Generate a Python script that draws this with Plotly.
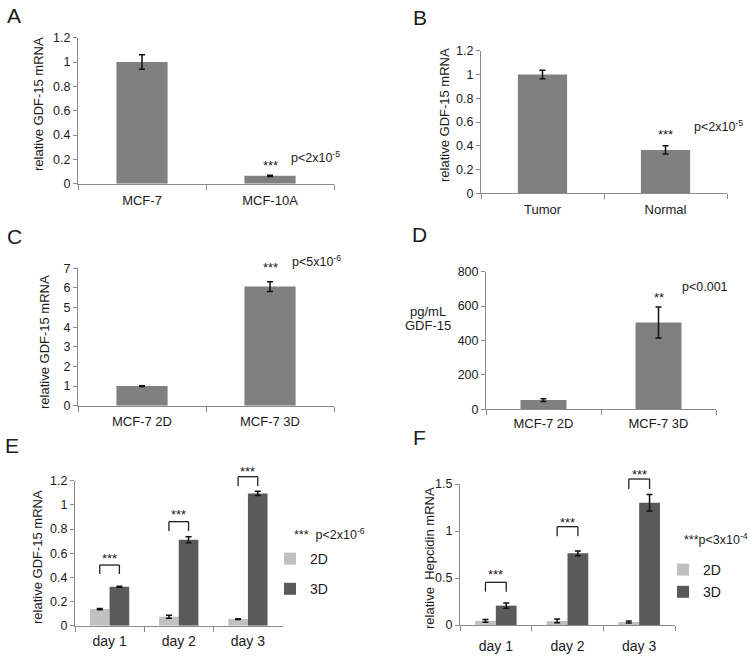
import plotly.graph_objects as go

W, H = 752, 661

# ---------------- data ----------------
a_cats = ["MCF-7", "MCF-10A"]
a_vals = [1.0, 0.065]
a_err = [0.06, 0.005]

b_cats = ["Tumor", "Normal"]
b_vals = [1.0, 0.365]
b_err = [0.035, 0.035]

c_cats = ["MCF-7 2D", "MCF-7 3D"]
c_vals = [1.0, 6.07]
c_err = [0.02, 0.25]

d_cats = ["MCF-7 2D", "MCF-7 3D"]
d_vals = [54, 505]
d_err = [8, 90]

e_days = ["day 1", "day 2", "day 3"]
e_2d = [0.138, 0.074, 0.055]
e_2d_err = [0.005, 0.012, 0.003]
e_3d = [0.323, 0.712, 1.095]
e_3d_err = [0.004, 0.025, 0.017]
e_br_low = [0.428, 0.784, 1.156]
e_br_high = [0.502, 0.861, 1.233]
e_star_y = [0.578, 0.944, 1.303]

f_days = ["day 1", "day 2", "day 3"]
f_2d = [0.043, 0.043, 0.032]
f_2d_err = [0.015, 0.02, 0.01]
f_3d = [0.206, 0.762, 1.30]
f_3d_err = [0.027, 0.025, 0.087]
f_br_low = [0.355, 0.944, 1.447]
f_br_high = [0.454, 1.046, 1.553]
f_star_y = [0.574, 1.124, 1.638]

# stars above single-bar panels: (category index, height in data units, text)
abcd_star_x = [1, 1, 1, 1]
abcd_star_y = [0.174, 0.516, 7.17, 670]
abcd_star_txt = ["***", "***", "***", "**"]

# ---------------- style ----------------
FONT = "Liberation Sans, Arial, sans-serif"
TXT = "#1a1a1a"
AX = "#8a8a8a"
BAR = "#808080"
LIGHT = "#c0c0c0"
DARK = "#5a5a5a"
EB = "#111111"
BW_E = 0.284
BW_F = 0.29


def sfx(ax):
    return "" if ax == "1" else ax


def px(x, y):
    return x / W, 1 - y / H


def err(arr):
    return dict(type="data", array=arr, color=EB, thickness=1.5, width=3)


def xax(x0, x1, anchor, standoff, fs=13):
    return dict(domain=[x0 / W, x1 / W], anchor=anchor, type="category",
                showline=True, linecolor=AX, linewidth=1, ticks="outside",
                tickson="boundaries", ticklen=5, tickcolor=AX,
                tickfont=dict(size=fs, color=TXT, family=FONT),
                ticklabelstandoff=standoff, automargin=False,
                showgrid=False, zeroline=False, fixedrange=True)


def yax(top, bottom, anchor, rng, dtick, fs=12.5):
    return dict(domain=[1 - bottom / H, 1 - top / H], anchor=anchor,
                range=rng, dtick=dtick, tick0=0, showline=True, linecolor=AX,
                linewidth=1, ticks="outside", ticklen=4, tickcolor=AX,
                tickfont=dict(size=fs, color=TXT, family=FONT), automargin=False,
                showgrid=False, zeroline=False, fixedrange=True)


fig = go.Figure()

# single-bar panels
for cats, vals, errs, ax in [(a_cats, a_vals, a_err, "1"), (b_cats, b_vals, b_err, "2"),
                             (c_cats, c_vals, c_err, "3"), (d_cats, d_vals, d_err, "4")]:
    fig.add_trace(go.Bar(x=cats, y=vals, error_y=err(errs), marker_color=BAR,
                         marker_line_width=0, width=0.4, showlegend=False,
                         xaxis="x" + sfx(ax), yaxis="y" + sfx(ax), hoverinfo="x+y"))

# grouped panels
fig.add_trace(go.Bar(x=e_days, y=e_2d, error_y=err(e_2d_err), name="2D", marker_color=LIGHT,
                     marker_line_width=0, width=BW_E, offset=-BW_E, xaxis="x5", yaxis="y5",
                     legend="legend", legendgroup="e2d"))
fig.add_trace(go.Bar(x=e_days, y=e_3d, error_y=err(e_3d_err), name="3D", marker_color=DARK,
                     marker_line_width=0, width=BW_E, offset=0, xaxis="x5", yaxis="y5",
                     legend="legend", legendgroup="e3d"))
fig.add_trace(go.Bar(x=f_days, y=f_2d, error_y=err(f_2d_err), name="2D", marker_color=LIGHT,
                     marker_line_width=0, width=BW_F, offset=-BW_F, xaxis="x6", yaxis="y6",
                     legend="legend2", legendgroup="f2d"))
fig.add_trace(go.Bar(x=f_days, y=f_3d, error_y=err(f_3d_err), name="3D", marker_color=DARK,
                     marker_line_width=0, width=BW_F, offset=0, xaxis="x6", yaxis="y6",
                     legend="legend2", legendgroup="f3d"))

YMAX = {"1": 1.2, "2": 1.2, "3": 7, "4": 800, "5": 1.2, "6": 1.5}

layout = dict(
    template="none",
    width=W, height=H, autosize=False,
    margin=dict(l=0, r=0, t=0, b=0, pad=0),
    paper_bgcolor="white", plot_bgcolor="white",
    font=dict(family=FONT, color=TXT, size=13),
    barmode="group",
    xaxis=xax(78, 334, "y", 5),
    yaxis=yax(37.7, 183.7, "x", [0, YMAX["1"]], 0.2),
    xaxis2=xax(481, 727, "y2", 4),
    yaxis2=yax(50.7, 193.3, "x2", [0, YMAX["2"]], 0.2),
    xaxis3=xax(78, 334, "y3", 4),
    yaxis3=yax(268.3, 405.7, "x3", [0, YMAX["3"]], 1),
    xaxis4=xax(486, 716, "y4", 2),
    yaxis4=yax(271.7, 409.3, "x4", [0, YMAX["4"]], 200),
    xaxis5=xax(75, 282.5, "y5", 2, fs=14),
    yaxis5=yax(480.7, 625.7, "x5", [0, YMAX["5"]], 0.2),
    xaxis6=xax(460, 675, "y6", 8, fs=14),
    yaxis6=yax(484, 625, "x6", [0, YMAX["6"]], 0.5),
    legend=dict(x=px(270, 0)[0], y=px(0, 543)[1], xanchor="left", yanchor="top",
                font=dict(size=14, family=FONT, color=TXT), bgcolor="rgba(0,0,0,0)",
                traceorder="grouped", tracegroupgap=9, itemclick=False, itemdoubleclick=False),
    legend2=dict(x=px(663, 0)[0], y=px(0, 554)[1], xanchor="left", yanchor="top",
                 font=dict(size=14, family=FONT, color=TXT), bgcolor="rgba(0,0,0,0)",
                 traceorder="grouped", tracegroupgap=1, itemclick=False, itemdoubleclick=False),
)
fig.update_layout(**layout)

ann = []


def paper_text(text, x, y, size=13, xanchor="center", angle=0):
    xx, yy = px(x, y)
    ann.append(dict(text=text, x=xx, y=yy, xref="paper", yref="paper", showarrow=False,
                    xanchor=xanchor, yanchor="middle", textangle=angle,
                    font=dict(size=size, family=FONT, color=TXT)))


# panel letters
for letter, x, y in [("A", 14, 15), ("B", 420, 17), ("C", 14, 237), ("D", 420, 234),
                     ("E", 12, 445), ("F", 420, 437)]:
    paper_text(letter, x, y, size=21)

# y-axis titles
paper_text("relative GDF-15 mRNA", 39, 104, angle=-90)
paper_text("relative GDF-15 mRNA", 444, 115, angle=-90)
paper_text("relative GDF-15 mRNA", 45, 342, angle=-90)
paper_text("pg/mL", 428, 312)
paper_text("GDF-15", 428, 326)
paper_text("relative GDF-15 mRNA", 37, 557, angle=-90)
paper_text("relative  Hepcidin mRNA", 429, 558, angle=-90)

# p-values
paper_text("p<2x10<sup>-5</sup>", 289, 157, size=12.5, xanchor="left")
paper_text("p<2x10<sup>-5</sup>", 692, 126, size=12.5, xanchor="left")
paper_text("p<5x10<sup>-6</sup>", 290, 261, size=12.5, xanchor="left")
paper_text("p<0.001", 680, 287, size=12.5, xanchor="left")
paper_text("***  p<2x10<sup>-6</sup>", 292, 534, size=12.5, xanchor="left")
paper_text("***p<3x10<sup>-4</sup>", 682, 539, size=12.5, xanchor="left")


def star(text, x, yval, ax):
    ann.append(dict(text=text, x=x, y=yval / YMAX[ax], xref="x" + sfx(ax),
                    yref="y" + sfx(ax) + " domain", showarrow=False, yanchor="middle",
                    yshift=-3, font=dict(size=13, family=FONT, color=TXT)))


for i, ax in enumerate(["1", "2", "3", "4"]):
    star(abcd_star_txt[i], abcd_star_x[i], abcd_star_y[i], ax)

shapes = []
for lows, highs, stars, bw, ax in [(e_br_low, e_br_high, e_star_y, BW_E, "5"),
                                   (f_br_low, f_br_high, f_star_y, BW_F, "6")]:
    ymax = YMAX[ax]
    for i in range(len(lows)):
        xl, xr = i - bw / 2, i + bw / 2
        lo, hi = lows[i] / ymax, highs[i] / ymax
        line = dict(color="#222222", width=1.3)
        for (x0, y0, x1, y1) in [(xl, lo, xl, hi), (xl, hi, xr, hi), (xr, hi, xr, lo)]:
            shapes.append(dict(type="line", xref="x" + ax, yref="y" + ax + " domain",
                               x0=x0, y0=y0, x1=x1, y1=y1, line=line))
        star("***", i, stars[i], ax)

fig.update_layout(annotations=ann, shapes=shapes)

fig.write_html(
    "out.html",
    config={"displayModeBar": False},
    post_script="document.body.style.margin='0';document.body.style.padding='0';"
                "document.body.style.overflow='hidden';",
)
